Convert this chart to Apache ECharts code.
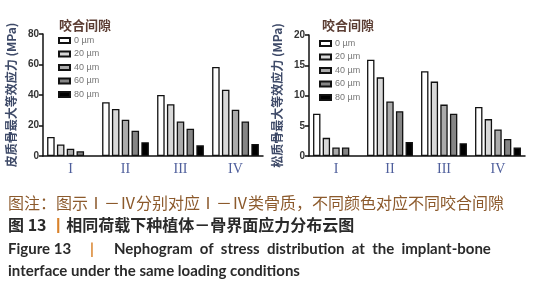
<!DOCTYPE html>
<html>
<head>
<meta charset="utf-8">
<script src="https://cdn.jsdelivr.net/npm/echarts@6/dist/echarts.min.js"></script>
<style>
  html, body { margin: 0; padding: 0; background: #fff; }
  #chart { width: 543px; height: 300px; }
</style>
</head>
<body>
<div id="chart"></div>
<script>
// 骨质类别与咬合间隙
const categories = ['I', 'II', 'III', 'IV']
const gaps = ['0 µm', '20 µm', '40 µm', '60 µm', '80 µm']
const gapColors = ['#ffffff', '#d8d8d8', '#ababab', '#858585', '#000000']

// 皮质骨最大等效应力 (MPa)，每个间隙一组
const cortical0 = [12.5, 35.2, 40, 58.4]
const cortical20 = [7.6, 30.8, 33.9, 43.5]
const cortical40 = [4.8, 23.8, 22.7, 30.4]
const cortical60 = [3.1, 16.6, 17.9, 22.7]
const cortical80 = [null, 9, 7, 7.9]

// 松质骨最大等效应力 (MPa)
const cancellous0 = [7.0, 15.9, 14, 8.1]
const cancellous20 = [3.0, 13, 12.3, 6.1]
const cancellous40 = [1.4, 9, 8.5, 4.4]
const cancellous60 = [1.4, 7.4, 7.0, 2.8]
const cancellous80 = [null, 2.3, 2.1, 1.4]

const corticalData = [cortical0, cortical20, cortical40, cortical60, cortical80]
const cancellousData = [cancellous0, cancellous20, cancellous40, cancellous60, cancellous80]

const chart = echarts.init(document.getElementById('chart'))

function xAxisFor(idx) {
    return {
        type: 'category',
        gridIndex: idx,
        data: categories,
        axisLine: {lineStyle: {color: '#111', width: 1.5}},
        axisTick: {alignWithLabel: true, length: 4, lineStyle: {color: '#111', width: 1.5}},
        axisLabel: {
            color: '#4f5f9c',
            fontFamily: 'Liberation Serif',
            fontSize: 14,
            margin: 6
        }
    }
}

function yAxisFor(idx, max, interval, name) {
    return {
        type: 'value',
        gridIndex: idx,
        min: 0,
        max: max,
        interval: interval,
        name: name,
        nameLocation: 'middle',
        nameGap: 26,
        nameRotate: 90,
        nameTextStyle: {
            color: '#3e4a68',
            fontSize: 12,
            fontWeight: 'bold',
            fontFamily: 'Noto Sans CJK SC'
        },
        axisLine: {show: true, lineStyle: {color: '#111', width: 1.5}},
        axisTick: {show: true, length: 4, lineStyle: {color: '#111', width: 1.5}},
        axisLabel: {color: '#333', fontSize: 10, fontWeight: 'bold', margin: 4, fontFamily: 'Liberation Sans'},
        splitLine: {show: false}
    }
}

function seriesFor(idx, dataList) {
    return gaps.map((g, i) => ({
        name: g,
        type: 'bar',
        xAxisIndex: idx,
        yAxisIndex: idx,
        barGap: '30%',
        barCategoryGap: '15%',
        data: dataList[i],
        itemStyle: {color: gapColors[i], borderColor: '#111', borderWidth: 1.3}
    }))
}

function legendFor(left, top) {
    return {
        data: gaps,
        orient: 'vertical',
        left: left,
        top: top,
        itemWidth: 11,
        itemHeight: 5,
        itemGap: 4.5,
        selectedMode: false,
        icon: 'rect',
        textStyle: {color: '#777', fontSize: 9, padding: [0, 0, 0, -1]}
    }
}

const captionFont = 'Noto Sans CJK SC'

chart.setOption({
    animation: false,
    title: [
        {text: '咬合间隙', left: 54, top: 14, textStyle: {color: '#5b3d33', fontSize: 13, fontWeight: 'bold', fontFamily: captionFont}},
        {text: '咬合间隙', left: 317, top: 14, textStyle: {color: '#5b3d33', fontSize: 13, fontWeight: 'bold', fontFamily: captionFont}}
    ],
    legend: [legendFor(53, 31), legendFor(314, 34)],
    grid: [
        {left: 43, top: 34, width: 220, height: 122},
        {left: 309, top: 35, width: 216, height: 121}
    ],
    xAxis: [xAxisFor(0), xAxisFor(1)],
    yAxis: [
        yAxisFor(0, 80, 20, '皮质骨最大等效应力 (MPa)'),
        yAxisFor(1, 20, 5, '松质骨最大等效应力 (MPa)')
    ],
    series: seriesFor(0, corticalData).concat(seriesFor(1, cancellousData)),
    graphic: [
        {type: 'text', left: 8, top: 195, style: {text: '图注：图示Ⅰ－Ⅳ分别对应Ⅰ－Ⅳ类骨质，不同颜色对应不同咬合间隙', fill: '#8c5a2c', font: '16px "Noto Sans CJK SC"'}},
        {type: 'text', left: 8, top: 217, style: {
            text: '{b|图 13 }{o|丨}{b|相同荷载下种植体－骨界面应力分布云图}',
            rich: {
                b: {fill: '#2a2a2a', font: 'bold 16px "Noto Sans CJK SC"'},
                o: {fill: '#d9822b', font: 'bold 16px "Noto Sans CJK SC"'}
            }
        }},
        {type: 'text', left: 8, top: 242, style: {text: 'Figure 13', fill: '#2a2a2a', font: 'bold 15px Lato'}},
        {type: 'text', left: 90, top: 242, style: {text: '|', fill: '#d9822b', font: 'bold 15px Lato'}},
        {type: 'text', left: 114, top: 242, style: {text: 'Nephogram  of  stress  distribution  at  the  implant-bone', fill: '#2a2a2a', font: 'bold 15px Lato'}},
        {type: 'text', left: 8, top: 264, style: {text: 'interface under the same loading conditions', fill: '#2a2a2a', font: 'bold 15px Lato'}}
    ]
})
</script>
</body>
</html>
